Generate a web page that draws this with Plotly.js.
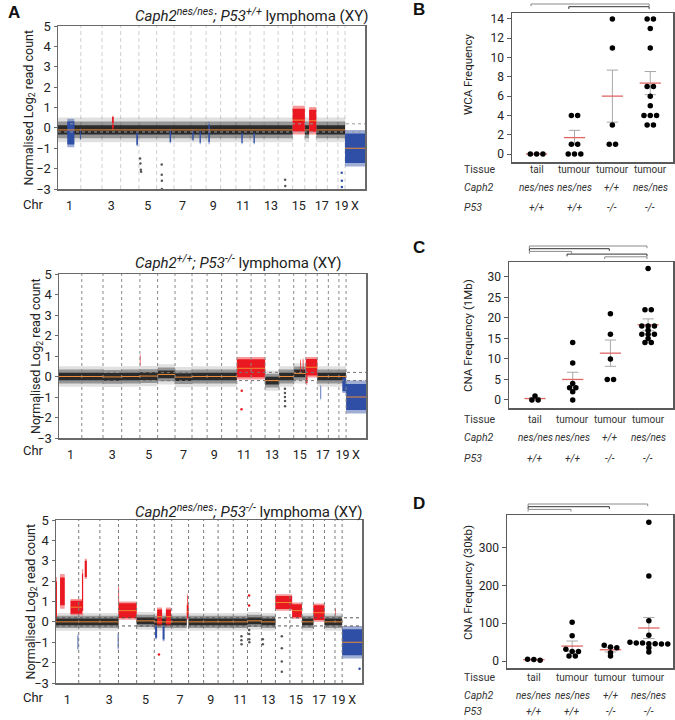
<!DOCTYPE html>
<html><head><meta charset="utf-8">
<script src="https://cdn.plot.ly/plotly-3.0.1.min.js"></script>
<style>html,body{margin:0;padding:0;background:#fff}#chart{width:675px;height:720px}</style>
</head><body><div id="chart"></div>
<script>
// ---------------- DATA ----------------
const chromNames = ['1','2','3','4','5','6','7','8','9','10','11','12','13','14','15','16','17','18','19','X'];
const chromLengths = [195.5,182.1,160.0,156.5,151.8,149.7,145.4,129.4,124.6,130.7,122.1,120.1,120.4,124.9,104.0,98.2,95.0,90.7,61.4,171.0];
const chrTickLabels = ['1','3','5','7','9','11','13','15','17','19','X'];

// segments: [chromosome, start Mb, end Mb, mean log2, half spread, call]
// call: n normal, g gain, l loss, gs/ls focal gain/loss
const segmentsA1 = [
  ['1',0,195.5,-0.1,0.55,'n'],['2',0,182.1,-0.1,0.55,'n'],['3',0,160,-0.1,0.55,'n'],['4',0,156.5,-0.1,0.55,'n'],
  ['5',0,151.8,-0.1,0.55,'n'],['6',0,149.7,-0.1,0.55,'n'],['7',0,145.4,-0.1,0.55,'n'],['8',0,129.4,-0.1,0.55,'n'],
  ['9',0,124.6,-0.1,0.55,'n'],['10',0,130.7,-0.1,0.55,'n'],['11',0,122.1,-0.1,0.55,'n'],['12',0,120.1,-0.1,0.55,'n'],
  ['13',0,120.4,-0.1,0.55,'n'],['14',0,124.9,-0.1,0.55,'n'],['16',0,37,-0.1,0.55,'n'],['17',0,95,-0.1,0.55,'n'],
  ['18',0,90.7,-0.1,0.55,'n'],['19',0,61.4,-0.1,0.55,'n'],
  ['15',0,104,0.38,0.7,'g'],['16',37,98.2,0.35,0.68,'g'],
  ['X',0,171,-1.0,0.9,'l'],
  ['1',80,140,-0.25,0.7,'ls'],['1',188,195.5,-0.3,0.3,'ls'],['3',86,100,0.25,0.35,'gs'],['4',135,148,-0.55,0.35,'ls'],
  ['6',112,124,-0.4,0.35,'ls'],['8',12,22,-0.35,0.3,'ls'],['8',74,84,-0.45,0.35,'ls'],['9',20,32,-0.25,0.55,'ls'],
  ['11',48,58,-0.5,0.3,'ls'],['12',30,40,-0.5,0.3,'ls']
];
const segmentsA2 = [
  ['1',0,195.5,0,0.45,'n'],['2',0,182.1,0,0.45,'n'],['3',0,160,-0.02,0.45,'n'],['4',0,156.5,0,0.45,'n'],
  ['5',0,151.8,0.02,0.45,'n'],['6',0,149.7,0.1,0.45,'n'],['7',0,145.4,-0.03,0.45,'n'],['8',0,129.4,0,0.45,'n'],
  ['9',0,124.6,0,0.45,'n'],['10',0,130.7,0,0.45,'n'],
  ['11',0,122.1,0.4,0.55,'g'],['12',0,120.1,0.4,0.55,'g'],
  ['13',0,120.4,-0.2,0.45,'n'],['14',0,124.9,0,0.45,'n'],['15',0,104,0.15,0.45,'n'],
  ['16',0,98.2,0.45,0.5,'g'],['17',0,95,0,0.45,'n'],['18',0,90.7,0,0.45,'n'],['19',0,61.4,0,0.45,'n'],
  ['X',0,171,-1.0,0.8,'l'],
  ['5',0,4,0.8,0.3,'gs'],['15',55,60,0.5,0.35,'gs'],['15',78,83,0.55,0.35,'gs'],['16',0,14,0.0,0.4,'gs'],
  ['17',28,33,-0.78,0.38,'ls'],['19',30,61.4,-0.4,0.4,'ls']
];
const segmentsA3 = [
  ['1',0,195.5,0,0.4,'n'],['1',0,8,1.1,1.1,'gs'],['1',35,75,1.5,0.85,'gs'],['1',125,195.5,0.72,0.4,'g'],['1',186,192,-1.0,0.42,'ls'],
  ['2',0,182.1,0,0.4,'n'],['2',0,28,0.72,0.4,'g'],['2',28,38,1.45,1.15,'gs'],['2',52,70,2.6,0.5,'gs'],
  ['3',0,160,0,0.4,'n'],['3',154,160,-0.95,0.45,'ls'],
  ['4',0,156.5,0.55,0.45,'g'],['4',0,5,1.0,0.85,'gs'],
  ['5',0,151.8,0.05,0.4,'n'],
  ['6',0,149.7,0,0.4,'n'],['6',7,24,-0.5,0.35,'ls'],['6',24,67,0.25,0.45,'g'],['6',72,88,-0.55,0.4,'ls'],['6',100,144,0.25,0.45,'g'],
  ['7',0,130,0,0.4,'n'],['7',130,145.4,0.5,0.4,'g'],['7',135,140,0.9,0.5,'gs'],
  ['8',0,129.4,0,0.4,'n'],['9',0,124.6,0,0.4,'n'],['10',0,130.7,0,0.4,'n'],['11',0,122.1,0,0.4,'n'],
  ['12',0,120.1,0.05,0.4,'n'],['13',0,120.4,0,0.4,'n'],
  ['14',0,124.9,0.95,0.4,'g'],['15',0,19,0.95,0.4,'g'],['15',19,104,0.55,0.4,'g'],
  ['16',0,98.2,0,0.4,'n'],['17',0,95,0.45,0.45,'g'],['18',0,90.7,0,0.4,'n'],['19',0,61.4,0,0.4,'n'],['19',2,6,0.5,0.2,'gs'],
  ['X',0,171,-1.0,0.8,'l']
];
// isolated outlying bins: [chromosome, position Mb, log2, call]
const outliersA1 = [['5',10,-1.5,'n'],['5',13,-1.75,'n'],['5',16,-2.05,'n'],['5',19,-2.15,'n'],['6',44,-1.8,'n'],['6',44,-2.3,'n'],
  ['6',45,-2.6,'n'],['6',45,-3.0,'n'],['14',60,-2.55,'n'],['14',61,-2.85,'n'],['19',33,-2.2,'l'],['19',34,-2.6,'l'],['19',34,-2.9,'l']];
const outliersA2 = [['11',40,-1.6,'g'],['11',42,-0.7,'g'],['14',50,-0.6,'n'],['14',50,-0.8,'n'],['14',50,-1.0,'n'],['14',51,-1.2,'n'],['14',51,-1.45,'n']];
const outliersA3 = [['6',40,-1.6,'g'],['11',70,-0.7,'n'],['11',70,-0.9,'n'],['11',71,-1.1,'n'],['12',15,-0.4,'n'],['12',15,-0.6,'n'],
  ['12',15,-0.85,'n'],['12',16,-1.0,'n'],['13',12,-0.85,'n'],['13',12,-1.1,'n'],['14',55,-0.7,'n'],['14',55,-1.3,'n'],
  ['14',55,-1.95,'n'],['14',55,-2.45,'n'],['12',14,0.8,'g'],['12',14,1.3,'g'],['X',150,-2.3,'l']];

const titleA1 = '<i>Caph2</i><sup><i>nes/nes</i></sup><i>;</i> <i>P53</i><sup><i>+/+</i></sup> lymphoma (XY)';
const titleA2 = '<i>Caph2</i><sup><i>+/+</i></sup><i>;</i> <i>P53</i><sup><i>-/-</i></sup> lymphoma (XY)';
const titleA3 = '<i>Caph2</i><sup><i>nes/nes</i></sup><i>;</i> <i>P53</i><sup><i>-/-</i></sup> lymphoma (XY)';

const groupTissue = ['tail','tumour','tumour','tumour'];
const groupCaph2 = ['nes/nes','nes/nes','+/+','nes/nes'];
const groupP53 = ['+/+','+/+','-/-','-/-'];

const wcaValues = [[0,0,0],[4,4,1,1,0,0,0],[14,11,3,1,1],[14,14,13,11,7,7,6,5,4,4,4,3,3]];
const wcaMean = [0,1.7,6.0,7.35];
const wcaSem = [0,0.75,2.7,1.2];
const wcaBrackets = [[1,4],[2,4]];

const cna1Values = [[1,0,0],[14,9,4,3,3,2,0],[21,16,10,5,5],[32,22,22,18,18,18,17,16,16,16,15,14,14]];
const cna1Mean = [0.35,5.0,11.4,18.3];
const cna1Sem = [0.3,1.75,3.2,1.45];
const cna1Brackets = [[1,4],[1,3],[1,2],[2,4],[3,4]];

const cna30Values = [[5,2,4],[103,67,31,25,25,13,13],[42,37,35,22,13],[368,225,107,68,50,48,48,46,46,45,45,35,24]];
const cna30Mean = [3.7,39.6,29.8,87.5];
const cna30Sem = [1.0,13.4,5.6,28];
const cna30Brackets = [[1,4],[1,3],[1,2]];

// ---------------- LAYOUT HELPERS ----------------
const W = 675, H = 720;
const FONT = 'Roboto, "Noto Sans", sans-serif';
const px = v => v / W, py = v => 1 - v / H;
const offs = []; let acc = 0;
chromLengths.forEach(l => { offs.push(acc); acc += l; });
const genomeLen = acc;
const gx = (c, p) => offs[chromNames.indexOf(c)] + p;
const ax = i => i === 1 ? '' : String(i);

const traces = [];
const layout = {
  width: W, height: H, margin: {l:0, r:0, t:0, b:0}, paper_bgcolor:'#fff', plot_bgcolor:'#fff',
  showlegend:false, hovermode:false, font:{family:FONT, color:'#222'},
  annotations: [], shapes: []
};

function bandTrace(segs, states, scale, color, i) {
  const xs = [], ys = [];
  segs.filter(s => states.includes(s[5])).forEach(s => {
    const x0 = gx(s[0], s[1]), x1 = gx(s[0], s[2]);
    const lo = s[3] - s[4]*scale, hi = s[3] + s[4]*scale;
    xs.push(x0, x1, x1, x0, x0, null); ys.push(lo, lo, hi, hi, lo, null);
  });
  return {type:'scatter', mode:'lines', x:xs, y:ys, fill:'toself', fillcolor:color,
    line:{width:0, color:color}, xaxis:'x'+ax(i), yaxis:'y'+ax(i), hoverinfo:'skip'};
}
function lineTrace(xs, ys, color, width, dash, i) {
  return {type:'scatter', mode:'lines', x:xs, y:ys, line:{color, width, dash},
    xaxis:'x'+ax(i), yaxis:'y'+ax(i), hoverinfo:'skip'};
}

const genomeBoxes = [
  {x0:58, x1:365, y0:26, y1:189, segs:segmentsA1, outs:outliersA1, title:titleA1, ty:15, chrY:204, ytx:29, bound:{c:'#cfcfcf', d:'4px,3px'}, refc:'#9a9a9a', above:false},
  {x0:59, x1:366, y0:274, y1:438, segs:segmentsA2, outs:outliersA2, title:titleA2, ty:262, chrY:450, ytx:36, bound:{c:'#8a8a8a', d:'dot'}, refc:'#777', above:true},
  {x0:56, x1:362, y0:520, y1:683, segs:segmentsA3, outs:outliersA3, title:titleA3, ty:511, chrY:697, ytx:31, bound:{c:'#7a7a7a', d:'dot'}, refc:'#555', above:true}
];

const chrCenters = chrTickLabels.map(c => gx(c, chromLengths[chromNames.indexOf(c)]/2));

genomeBoxes.forEach((b, k) => {
  const i = k + 1;
  const bx = [], by = [];
  for (let c = 1; c < chromNames.length; c++) { bx.push(offs[c], offs[c], null); by.push(-3, 5, null); }
  const boundT = lineTrace(bx, by, b.bound.c, 1, b.bound.d, i);
  if (!b.above) traces.push(boundT);
  traces.push(bandTrace(b.segs, ['n'], 1.1, 'rgba(0,0,0,0.12)', i));
  traces.push(bandTrace(b.segs, ['n'], 0.75, 'rgba(0,0,0,0.33)', i));
  traces.push(bandTrace(b.segs, ['n'], 0.42, 'rgba(25,25,25,0.85)', i));
  traces.push(bandTrace(b.segs, ['g','gs'], 1.0, 'rgba(235,30,36,0.45)', i));
  traces.push(bandTrace(b.segs, ['g','gs'], 0.8, '#ea1820', i));
  traces.push(bandTrace(b.segs, ['l','ls'], 1.0, 'rgba(45,75,165,0.45)', i));
  traces.push(bandTrace(b.segs, ['l','ls'], 0.8, '#2f4fa6', i));
  if (b.above) traces.push(boundT);
  traces.push(lineTrace([0, genomeLen, null, 0, genomeLen], [0.2, 0.2, null, -0.2, -0.2], b.refc, 1, 'dot', i));
  const mx = [], my = [];
  b.segs.filter(s => ['n','g','l'].includes(s[5])).forEach(s => { mx.push(gx(s[0], s[1]), gx(s[0], s[2]), null); my.push(s[3], s[3], null); });
  traces.push(lineTrace(mx, my, '#f08a36', 1, 'solid', i));
  const colOf = {n:'#555', g:'#ea1820', l:'#2f4fa6'};
  traces.push({type:'scatter', mode:'markers', x:b.outs.map(o => gx(o[0], o[1])), y:b.outs.map(o => o[2]),
    marker:{size:2.5, color:b.outs.map(o => colOf[o[3]])}, xaxis:'x'+ax(i), yaxis:'y'+ax(i), hoverinfo:'skip'});

  layout['xaxis'+ax(i)] = {domain:[px(b.x0), px(b.x1)], anchor:'y'+ax(i), range:[0, genomeLen], showgrid:false, zeroline:false,
    tickvals:chrCenters, ticktext:chrTickLabels, ticks:'', tickfont:{size:12.5, color:'#222', family:FONT}, ticklabelstandoff:4,
    showline:true, mirror:true, linecolor:'#6a6a6a', linewidth:1.5, fixedrange:true};
  layout['yaxis'+ax(i)] = {domain:[py(b.y1), py(b.y0)], anchor:'x'+ax(i), range:[-3, 5], dtick:1, showgrid:false, zeroline:false,
    ticks:'outside', ticklen:3, tickcolor:'#6a6a6a', tickfont:{size:13, color:'#222', family:FONT},
    showline:true, mirror:true, linecolor:'#6a6a6a', linewidth:1.5, fixedrange:true};
  layout.annotations.push({xref:'paper', yref:'paper', x:px(133), y:py(b.ty), xanchor:'left', yanchor:'middle', showarrow:false,
    text:b.title, font:{size:15, color:'#222'}});
  layout.annotations.push({xref:'paper', yref:'paper', x:px(b.ytx), y:py((b.y0 + b.y1)/2), xanchor:'center', yanchor:'middle', showarrow:false,
    textangle:-90, text:'Normalised Log<sub>2</sub> read count', font:{size:12.5, color:'#222'}});
  layout.annotations.push({xref:'paper', yref:'paper', x:px(33), y:py(b.chrY), xanchor:'center', yanchor:'middle', showarrow:false,
    text:'Chr', font:{size:13, color:'#222'}});
});

// ---------------- DOT PLOTS ----------------
const dotBoxes = [
  {x0:512, x1:673, y0:13, y1:162, yr:[-0.83,14.62], xr:[0.35,4.6], dtick:2, vals:wcaValues, mean:wcaMean, sem:wcaSem, br:wcaBrackets,
    brY:4, ytitle:'WCA Frequency', ytY:75, rows:[169,188,208], letter:'B', letY:10},
  {x0:509, x1:673, y0:262, y1:408, yr:[-1.95,33.6], xr:[0.31,4.66], dtick:5, vals:cna1Values, mean:cna1Mean, sem:cna1Sem, br:cna1Brackets,
    brY:246, ytitle:'CNA Frequency (1Mb)', ytY:336, rows:[419,438,459], letter:'C', letY:247},
  {x0:507, x1:673, y0:515, y1:668, yr:[-18.5,387], xr:[0.3,4.63], dtick:100, vals:cna30Values, mean:cna30Mean, sem:cna30Sem, br:cna30Brackets,
    brY:504, ytitle:'CNA Frequency (30kb)', ytY:583, rows:[677,695,711], letter:'D', letY:503}
];

dotBoxes.forEach((b, k) => {
  const i = k + 4, xa = 'x'+i, ya = 'y'+i;
  const pxY = (b.y1 - b.y0) / (b.yr[1] - b.yr[0]);
  const pxX = (b.x1 - b.x0) / (b.xr[1] - b.xr[0]);
  const step = 6.3 / pxX;
  const sx = [], sy = [], cap = 0.15;
  b.mean.forEach((m, g) => {
    const c = g + 1, s = b.sem[g];
    sx.push(c, c, null, c-cap, c+cap, null, c-cap, c+cap, null);
    sy.push(m-s, m+s, null, m+s, m+s, null, m-s, m-s, null);
  });
  traces.push({type:'scatter', mode:'lines', x:sx, y:sy, line:{color:'#a8a8a8', width:1}, xaxis:xa, yaxis:ya, hoverinfo:'skip'});
  const mx = [], my = [];
  b.mean.forEach((m, g) => { mx.push(g+1-0.28, g+1+0.28, null); my.push(m, m, null); });
  traces.push({type:'scatter', mode:'lines', x:mx, y:my, line:{color:'#e06666', width:1.3}, xaxis:xa, yaxis:ya, hoverinfo:'skip'});
  const dx = [], dy = [];
  b.vals.forEach((vals, g) => {
    const sorted = [...vals].sort((a, c) => c - a);
    const clusters = []; let cur = [sorted[0]];
    for (let j = 1; j < sorted.length; j++) {
      if ((cur[cur.length-1] - sorted[j]) * pxY < 3) cur.push(sorted[j]); else { clusters.push(cur); cur = [sorted[j]]; }
    }
    clusters.push(cur);
    clusters.forEach(cl => cl.forEach((v, j) => { dx.push(g + 1 + (j - (cl.length-1)/2) * step); dy.push(v); }));
  });
  traces.push({type:'scatter', mode:'markers', x:dx, y:dy, marker:{size:5.5, color:'#000'}, xaxis:xa, yaxis:ya, hoverinfo:'skip'});

  layout['xaxis'+i] = {domain:[px(b.x0), px(b.x1)], anchor:ya, range:b.xr, showgrid:false, zeroline:false, showticklabels:false, ticks:'',
    showline:true, mirror:true, linecolor:'#5a5a5a', linewidth:1.5, fixedrange:true};
  layout['yaxis'+i] = {domain:[py(b.y1), py(b.y0)], anchor:xa, range:b.yr, dtick:b.dtick, showgrid:false, zeroline:false,
    ticks:'outside', ticklen:4, tickcolor:'#5a5a5a', tickfont:{size:12, color:'#222', family:FONT},
    showline:true, mirror:true, linecolor:'#5a5a5a', linewidth:1.5, fixedrange:true};
  b.br.forEach((p, j) => {
    const yTop = b.brY + j * 2.7;
    const x0 = p[0] - 0.15, x1 = p[1] - 0.03;
    layout.shapes.push({type:'path', xref:xa, yref:'paper',
      path:`M ${x0},${py(yTop+2.2)} L ${x0},${py(yTop)} L ${x1},${py(yTop)} L ${x1},${py(yTop+2.2)}`,
      line:{color: j % 2 === 0 ? '#8a8a8a' : '#333', width:1}});
  });
  layout.annotations.push({xref:'paper', yref:'paper', x:px(468), y:py(b.ytY), textangle:-90, showarrow:false,
    xanchor:'center', yanchor:'middle', text:b.ytitle, font:{size:11.5, color:'#222'}});
  const rowNames = ['Tissue', '<i>Caph2</i>', '<i>P53</i>'];
  const rowVals = [groupTissue, groupCaph2.map(s => '<i>'+s+'</i>'), groupP53.map(s => '<i>'+s+'</i>')];
  rowNames.forEach((r, j) => {
    layout.annotations.push({xref:'paper', yref:'paper', x:px(462), y:py(b.rows[j]), xanchor:'left', yanchor:'middle', showarrow:false,
      text:r, font:{size:10.5, color:'#333'}});
    rowVals[j].forEach((t, g) => {
      layout.annotations.push({xref:xa, yref:'paper', x:g+1, y:py(b.rows[j]), xanchor:'center', yanchor:'middle', showarrow:false,
        text:t, font:{size:10, color:'#333'}});
    });
  });
  layout.annotations.push({xref:'paper', yref:'paper', x:px(411), y:py(b.letY), xanchor:'left', yanchor:'middle', showarrow:false,
    text:'<b>'+b.letter+'</b>', font:{size:17, family:'"Liberation Sans", Arial, sans-serif', color:'#111'}});
});
layout.annotations.push({xref:'paper', yref:'paper', x:px(6), y:py(12), xanchor:'left', yanchor:'middle', showarrow:false,
  text:'<b>A</b>', font:{size:17, family:'"Liberation Sans", Arial, sans-serif', color:'#111'}});

traces.forEach(t => t.showlegend = false);
Plotly.newPlot('chart', traces, layout, {staticPlot:true, displayModeBar:false});
</script>
</body></html>
